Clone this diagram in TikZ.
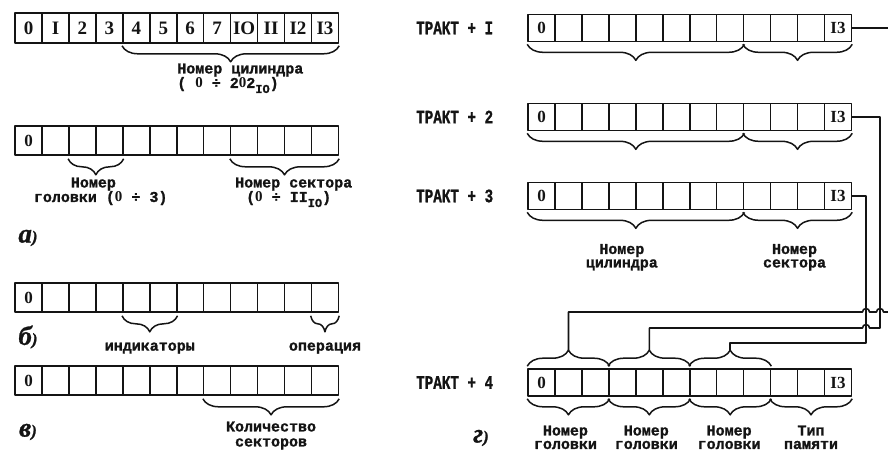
\documentclass[tikz,border=0pt]{standalone}
\usepackage{fontspec}
\setmainfont{Liberation Serif}
\newfontface\monob[FakeBold=1.2]{Liberation Mono Bold}
\newfontface\monon[FakeStretch=0.75, FakeBold=1]{Liberation Mono Bold}
\newfontface\cellf{Liberation Serif Bold}
\newfontface\drafit[FakeBold=1]{Liberation Serif Bold Italic}
\newcommand{\zr}{{\cellf 0}}
\usepackage{tikz}
\usetikzlibrary{positioning, calc, decorations.pathreplacing}
\definecolor{ink}{RGB}{20,20,20}
\tikzset{
  regcell/.style={rectangle, draw=ink, minimum width=26.95pt,
    minimum height=27pt, inner sep=0pt, line width=1.6pt, text=ink,
    font=\cellf\fontsize{17}{17}\selectfont},
  tallcell/.style={regcell, minimum height=29pt},
  brcup/.style={decorate, decoration={brace, amplitude=16pt},
    draw=ink, line width=1.5pt},
  brcdown/.style={decorate, decoration={brace, mirror, amplitude=16pt},
    draw=ink, line width=1.5pt},
  leftlbl/.style={font=\monob\fontsize{15}{14.5}\selectfont,
    align=left, inner sep=0pt, text=ink},
  rightlbl/.style={font=\monob\fontsize{15}{13.5}\selectfont,
    align=center, inner sep=0pt, text=ink},
  tract/.style={font=\monon\fontsize{19}{19}\selectfont, anchor=west,
    inner sep=0pt, text=ink},
  partlbl/.style={font=\drafit\fontsize{27}{27}\selectfont, inner sep=0pt, text=ink},
  wire/.style={draw=ink, line width=1.6pt}
}

\begin{document}
\lineskiplimit=-20pt
\begin{tikzpicture}[x=1pt, y=-1pt, line join=round]
  \useasboundingbox (0,0) rectangle (888,452);

  % a) cylinder word, bits numbered
  \foreach \t [count=\i from 0] in {0,I,2,3,4,5,6,7,IO,II,I2,I3}
    \node[tallcell, minimum height=30pt, font=\cellf\fontsize{19}{19}\selectfont]
      (a1-\i) at ({28.5+\i*26.95}, 28) {\t};
  \draw[brcdown] ([yshift=-2pt]a1-4.south west) -- ([yshift=-2pt]a1-11.south east)
    node[leftlbl, midway, below=17pt, xshift=9.7pt] (a1lbl)
    {Номер цилиндра\\( \zr{} ÷ 2\zr2\raisebox{-5pt}{\fontsize{12}{12}\selectfont IO})};

  % a) head / sector word
  \foreach \i in {0,...,11}
    \node[tallcell] (a2-\i) at ({28.5+\i*26.95}, 140.5) {\ifnum\i=0 0\fi};
  \draw[brcdown] ([yshift=-3pt]a2-2.south west) -- ([yshift=-3pt]a2-3.south east)
    node[leftlbl, midway, below=18pt, xshift=4.8pt] (a2head)
    {\hspace*{37pt}Номер\\головки (\zr{} ÷ 3)};
  \draw[brcdown] ([yshift=-3pt]a2-8.south west) -- ([yshift=-3pt]a2-11.south east)
    node[leftlbl, midway, below=18pt, xshift=9.2pt] (a2sect)
    {Номер сектора\\\hspace*{11pt}(\zr{} ÷ II\raisebox{-5pt}{\fontsize{12}{12}\selectfont IO})};
  \node[partlbl] (parta) at (28, 238) {а{\fontsize{17}{17}\selectfont)}};

  % b) indicators / operation
  \foreach \i in {0,...,11}
    \node[tallcell] (b-\i) at ({28.5+\i*26.95}, 297.5) {\ifnum\i=0 0\fi};
  \draw[brcdown] ([yshift=-3pt]b-4.south west) -- ([yshift=-3pt]b-5.south east)
    node[leftlbl, midway, below=26pt] (bind) {индикаторы};
  \draw[brcdown] ([yshift=-3pt]b-11.south west) -- ([yshift=-3pt]b-11.south east)
    node[leftlbl, midway, below=26pt] (bop) {операция};
  \node[partlbl] (partb) at (28, 337) {б{\fontsize{17}{17}\selectfont)}};

  % c) sector count
  \foreach \i in {0,...,11}
    \node[tallcell] (c-\i) at ({28.5+\i*26.95}, 380.5) {\ifnum\i=0 0\fi};
  \draw[brcdown] ([yshift=-3pt]c-7.south west) -- ([yshift=-3pt]c-11.south east)
    node[leftlbl, align=center, font=\monob\fontsize{15}{15}\selectfont,
      midway, below=22pt] (ccnt) {Количество\\секторов};
  \node[partlbl] (partc) at (28, 432) {в{\fontsize{17}{17}\selectfont)}};

  % d) track words
  \foreach \r/\y/\n in {r1/28/I, r2/117/2, r3/196/3, r4/382.5/4} {
    \node[tract] (\r-tag) at (416, \y) {ТРАКТ + \n};
    \foreach \i in {0,...,11}
      \node[regcell] (\r-\i) at ({541.5+\i*26.95}, \y)
        {\ifnum\i=0 0\fi\ifnum\i=11 I3\fi};
  }
  \foreach \r in {r1, r2} {
    \draw[brcdown] ([yshift=-2pt]\r-0.south west) -- ([yshift=-2pt]\r-7.south east);
    \draw[brcdown] ([yshift=-2pt]\r-8.south west) -- ([yshift=-2pt]\r-11.south east);
  }
  \draw[brcdown] ([yshift=-2pt]r3-0.south west) -- ([yshift=-2pt]r3-7.south east)
    node[rightlbl, midway, below=31pt, xshift=-14pt] (r3cyl) {Номер\\цилиндра};
  \draw[brcdown] ([yshift=-2pt]r3-8.south west) -- ([yshift=-2pt]r3-11.south east)
    node[rightlbl, midway, below=31pt, xshift=-3pt] (r3sec) {Номер\\сектора};

  % fourth word: fields taken from the words above
  \foreach \a/\b/\t in {0/2/t1, 3/5/t2, 6/8/t3}
    \draw[brcup] ([yshift=2pt]r4-\a.north west) -- ([yshift=2pt]r4-\b.north east)
      coordinate[midway, yshift=16pt] (\t);
  \foreach \a/\b/\s/\dx in {0/2/Номер\\головки/-3, 3/5/Номер\\головки/-3,
      6/8/Номер\\головки/-1, 9/11/Тип\\памяти/0}
    \draw[brcdown] ([yshift=-2pt]r4-\a.south west) -- ([yshift=-2pt]r4-\b.south east)
      node[rightlbl, midway, below=26pt, xshift=\dx pt] {\s};
  \node[partlbl] (partd) at (481, 438) {г{\fontsize{17}{17}\selectfont)}};

  % wiring with hops
  \coordinate (rim) at (888, 312);
  \coordinate (bus2) at (880, 328);
  \coordinate (bus3) at (866, 343);
  \draw[wire] (r1-11.east) -- (r1-11.east -| rim);
  \draw[wire] (r2-11.east) -| (bus2)
    -- ($(bus2 -| bus3)+(3.5,0)$) arc[start angle=0, end angle=180, radius=3.5pt]
    -- (bus2 -| t2) -- (t2);
  \draw[wire] (r3-11.east) -| (bus3) -- (bus3 -| t3) -- (t3);
  \draw[wire] (rim)
    -- ($(rim -| bus2)+(3.5,0)$) arc[start angle=0, end angle=180, radius=3.5pt]
    -- ($(rim -| bus3)+(3.5,0)$) arc[start angle=0, end angle=180, radius=3.5pt]
    -- (rim -| t1) -- (t1);
\end{tikzpicture}
\end{document}
